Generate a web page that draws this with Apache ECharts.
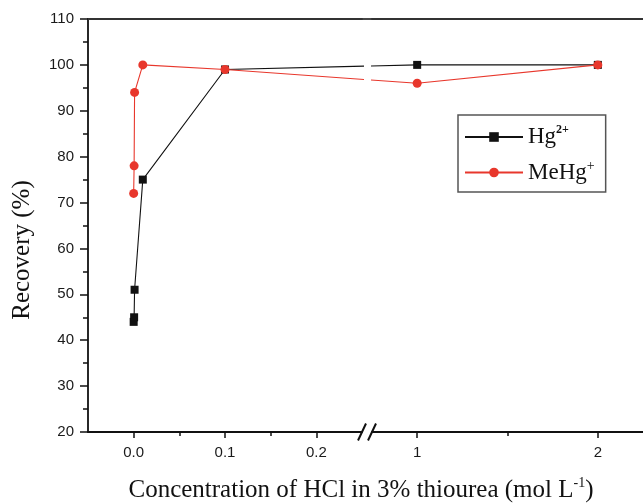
<!DOCTYPE html>
<html>
<head>
<meta charset="utf-8">
<script src="https://cdn.jsdelivr.net/npm/echarts@6/dist/echarts.min.js"></script>
<style>html,body{margin:0;padding:0;background:#fff;}#c{width:643px;height:504px;}</style>
</head>
<body>
<div id="c"></div>
<script>
// ---- data ----
const hgX   = [0, 0.0005, 0.001, 0.01, 0.1, 1, 2];
const hgY   = [44, 45, 51, 75, 99, 100, 100];
const mehgX = [0, 0.0005, 0.001, 0.01, 0.1, 1, 2];
const mehgY = [72, 78, 94, 100, 99, 96, 100];
const seg1Labels = [0, 0.1, 0.2];
const seg1Minor  = [0.05, 0.15];
const seg2Labels = [1, 2];
const seg2Minor  = [1.5];
const yTicks = { min: 20, max: 110, interval: 10 };
const seg1Range = [-0.05, 0.25];
const seg2Range = [0.75, 2.25];

// ---- layout ----
const G1 = { left: 88, top: 19, width: 274, height: 413 };
const G2 = { left: 372, top: 19, width: 273, height: 413 };
const RED = '#e8372c', BLACK = '#111';
const SANS = 'Liberation Sans, Arial, sans-serif';
const SERIF = 'Liberation Serif, Times New Roman, serif';

const chart = echarts.init(document.getElementById('c'), null, { renderer: 'canvas' });

function xAxes(gridIndex, range, labels, minor, fmt) {
  const common = { type: 'value', gridIndex, min: range[0], max: range[1], splitLine: { show: false } };
  return [
    Object.assign({}, common, {
      position: 'bottom',
      axisLine: { show: true, onZero: false, lineStyle: { color: BLACK, width: 1.8 } },
      axisTick: { show: true, length: 6, customValues: labels, lineStyle: { color: BLACK, width: 1.5 } },
      axisLabel: { show: true, customValues: labels, formatter: fmt, margin: 13, color: '#1a1a1a', fontSize: 15, fontFamily: SANS }
    }),
    Object.assign({}, common, {
      position: 'bottom',
      axisLine: { show: false, onZero: false },
      axisTick: { show: true, length: 4, customValues: minor, lineStyle: { color: BLACK, width: 1.5 } },
      axisLabel: { show: false }
    }),
    Object.assign({}, common, {
      position: 'top',
      axisLine: { show: true, onZero: false, lineStyle: { color: '#333', width: 1.8 } },
      axisTick: { show: false },
      axisLabel: { show: false }
    })
  ];
}

const xAx = [].concat(
  xAxes(0, seg1Range, seg1Labels, seg1Minor, v => v.toFixed(1)),
  xAxes(1, seg2Range, seg2Labels, seg2Minor, v => String(v))
);
// index: 0 main g1, 1 minor g1, 2 top g1, 3 main g2, 4 minor g2, 5 top g2

const yAx = [
  { type: 'value', gridIndex: 0, min: yTicks.min, max: yTicks.max, interval: yTicks.interval,
    splitLine: { show: false },
    axisLine: { show: true, onZero: false, lineStyle: { color: BLACK, width: 1.8 } },
    axisTick: { show: true, length: 8, lineStyle: { color: BLACK, width: 1.5 } },
    minorTick: { show: true, splitNumber: 2, length: 5, lineStyle: { color: BLACK, width: 1.5 } },
    axisLabel: { margin: 14, color: '#1a1a1a', fontSize: 15, fontFamily: SANS } },
  { type: 'value', gridIndex: 1, min: yTicks.min, max: yTicks.max, interval: yTicks.interval,
    show: false, splitLine: { show: false } }
];

function split(xs, ys, lo, hi) {
  const out = [];
  xs.forEach((x, i) => { if (x >= lo && x <= hi) out.push([x, ys[i]]); });
  return out;
}

function buildSeries(bridge) {
  const mk = (name, xs, ys, color, symbol, size, xi, yi, seg) => {
    let data = seg === 1 ? split(xs, ys, seg1Range[0], seg1Range[1]) : split(xs, ys, seg2Range[0], seg2Range[1]);
    if (bridge && bridge[name]) {
      const b = bridge[name][seg];
      const item = { value: b, symbol: 'none' };
      if (seg === 1) data = data.concat([item]); else data = [item].concat(data);
    }
    return {
      name, type: 'line', xAxisIndex: xi, yAxisIndex: yi, data, clip: true,
      symbol, symbolSize: size, showSymbol: true,
      lineStyle: { color, width: 1.1 },
      itemStyle: { color, borderWidth: 0 },
      emphasis: { disabled: true }, animation: false, z: name === 'MeHg' ? 3 : 2
    };
  };
  return [
    mk('Hg', hgX, hgY, BLACK, 'rect', 8, 0, 0, 1),
    mk('Hg', hgX, hgY, BLACK, 'rect', 8, 3, 1, 2),
    mk('MeHg', mehgX, mehgY, RED, 'circle', 9, 0, 0, 1),
    mk('MeHg', mehgX, mehgY, RED, 'circle', 9, 3, 1, 2)
  ];
}

const g1Right = G1.left + G1.width, g2Left = G2.left;
const bottomY = G1.top + G1.height, topY = G1.top;

const option = {
  backgroundColor: '#fff',
  animation: false,
  grid: [
    Object.assign({ containLabel: false }, G1),
    Object.assign({ containLabel: false }, G2)
  ],
  xAxis: xAx,
  yAxis: yAx,
  legend: {
    data: ['Hg', 'MeHg'],
    orient: 'vertical', left: 458, top: 115,
    itemWidth: 58, itemHeight: 12, itemGap: 11,
    padding: [9, 11, 8, 6],
    borderColor: '#555', borderWidth: 1.5, backgroundColor: '#fff',
    selectedMode: false,
    formatter: n => n === 'Hg' ? '{t|Hg}{s|2+}' : '{t|MeHg}{p|+}',
    textStyle: {
      color: '#111', fontFamily: SERIF, fontSize: 23,
      rich: {
        t: { fontSize: 23, fontFamily: SERIF, color: '#111', lineHeight: 26 },
        s: { fontSize: 12, fontFamily: SERIF, fontWeight: 'bold', color: '#111', verticalAlign: 'top', lineHeight: 14 },
        p: { fontSize: 14, fontFamily: SERIF, color: '#111', verticalAlign: 'top', lineHeight: 14 }
      }
    }
  },
  graphic: [
    { type: 'line', shape: { x1: g1Right - 1, y1: topY, x2: g2Left + 1, y2: topY }, style: { stroke: '#333', lineWidth: 1.8 }, silent: true },
    { type: 'line', shape: { x1: g1Right - 4, y1: bottomY + 8.5, x2: g1Right + 4, y2: bottomY - 8.5 }, style: { stroke: BLACK, lineWidth: 2 }, silent: true },
    { type: 'line', shape: { x1: g2Left - 4, y1: bottomY + 8.5, x2: g2Left + 4, y2: bottomY - 8.5 }, style: { stroke: BLACK, lineWidth: 2 }, silent: true },
    { type: 'text', x: 22, y: 250, rotation: Math.PI / 2, silent: true,
      style: { text: 'Recovery (%)', fill: '#111', font: '25px ' + SERIF, textAlign: 'center', textVerticalAlign: 'middle' } },
    { type: 'text', x: 361, y: 490, silent: true,
      style: { text: '{t|Concentration of HCl in 3% thiourea (mol L}{s|-1}{t|)}', textAlign: 'center', textVerticalAlign: 'middle',
        rich: {
          t: { fontSize: 25, fontFamily: SERIF, fill: '#111', color: '#111', lineHeight: 28 },
          s: { fontSize: 14, fontFamily: SERIF, fill: '#111', color: '#111', verticalAlign: 'top', lineHeight: 14 }
        } } }
  ],
  series: buildSeries(null)
};
chart.setOption(option);

// bridge the axis break: the segment between the last point of segment 1 and the first
// point of segment 2 is drawn straight on screen, using the library's own axis mapping.
function bridgeFor(xs, ys) {
  let iA = -1, iB = -1;
  xs.forEach((x, i) => { if (x <= seg1Range[1]) iA = i; });
  for (let i = 0; i < xs.length; i++) { if (xs[i] >= seg2Range[0]) { iB = i; break; } }
  const pxB = chart.convertToPixel({ xAxisIndex: 3 }, xs[iB]);
  const pxA = chart.convertToPixel({ xAxisIndex: 0 }, xs[iA]);
  return {
    1: [chart.convertFromPixel({ xAxisIndex: 0 }, pxB), ys[iB]],
    2: [chart.convertFromPixel({ xAxisIndex: 3 }, pxA), ys[iA]]
  };
}
const bridge = { Hg: bridgeFor(hgX, hgY), MeHg: bridgeFor(mehgX, mehgY) };
chart.setOption({ series: buildSeries(bridge) });
</script>
</body>
</html>
